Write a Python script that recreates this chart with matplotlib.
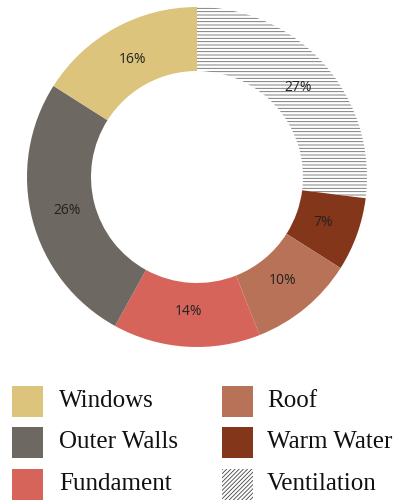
import matplotlib
matplotlib.use("Agg")
import matplotlib.pyplot as plt
from matplotlib.patches import Rectangle

# Data (clockwise from top)
categories = ["Ventilation", "Warm Water", "Roof", "Fundament", "Outer Walls", "Windows"]
values = [27, 7, 10, 14, 26, 16]
colors = ["#ffffff", "#84361a", "#b87257", "#d6645a", "#6e6862", "#dcc47c"]

legend_order = ["Windows", "Outer Walls", "Fundament", "Roof", "Warm Water", "Ventilation"]

plt.rcParams['hatch.linewidth'] = 0.6
plt.rcParams['hatch.color'] = '#6a6a6a'

W, H = 396, 503
fig = plt.figure(figsize=(W / 100, H / 100), dpi=100)

cx, cy, R = 197, 177, 170
ax = fig.add_axes([(cx - R) / W, (H - cy - R) / H, 2 * R / W, 2 * R / H])

inner = 106 / 170
wedges, texts = ax.pie(values, colors=colors, startangle=90, counterclock=False,
                       radius=1, wedgeprops=dict(width=1 - inner, linewidth=0),
                       labels=[f"{v}%" for v in values], labeldistance=(1 + inner) / 2 - 0.02,
                       textprops=dict(family="Open Sans", fontsize=10, color="#222222",
                                      ha="center", va="center"))
wedges[0].set_hatch("-----")
wedges[0].set_edgecolor("#6a6a6a")
wedges[0].set_linewidth(0)
ax.set_xlim(-1, 1)
ax.set_ylim(-1, 1)
ax.set_aspect('equal')
ax.axis('off')

# Legend (manual layout)
col_sq_x = [12, 222]
col_tx_x = [59, 267]
row_cy = [401, 442, 484]
sq = 31
cmap = dict(zip(categories, colors))
for i, name in enumerate(legend_order):
    c, r = i // 3, i % 3
    x0 = col_sq_x[c]
    y0 = row_cy[r] - sq / 2
    if name == "Ventilation":
        rect = Rectangle((x0 / W, (H - y0 - sq) / H), sq / W, sq / H, transform=fig.transFigure,
                         facecolor="#ffffff", edgecolor="#444444", linewidth=0, hatch="////////")
    else:
        rect = Rectangle((x0 / W, (H - y0 - sq) / H), sq / W, sq / H, transform=fig.transFigure,
                         facecolor=cmap[name], edgecolor="none")
    fig.patches.append(rect)
    fig.text(col_tx_x[c] / W, (H - row_cy[r]) / H, name, family="Liberation Serif",
             fontsize=18, color="#111111", ha="left", va="center")

fig.savefig("out.png", dpi=100)
